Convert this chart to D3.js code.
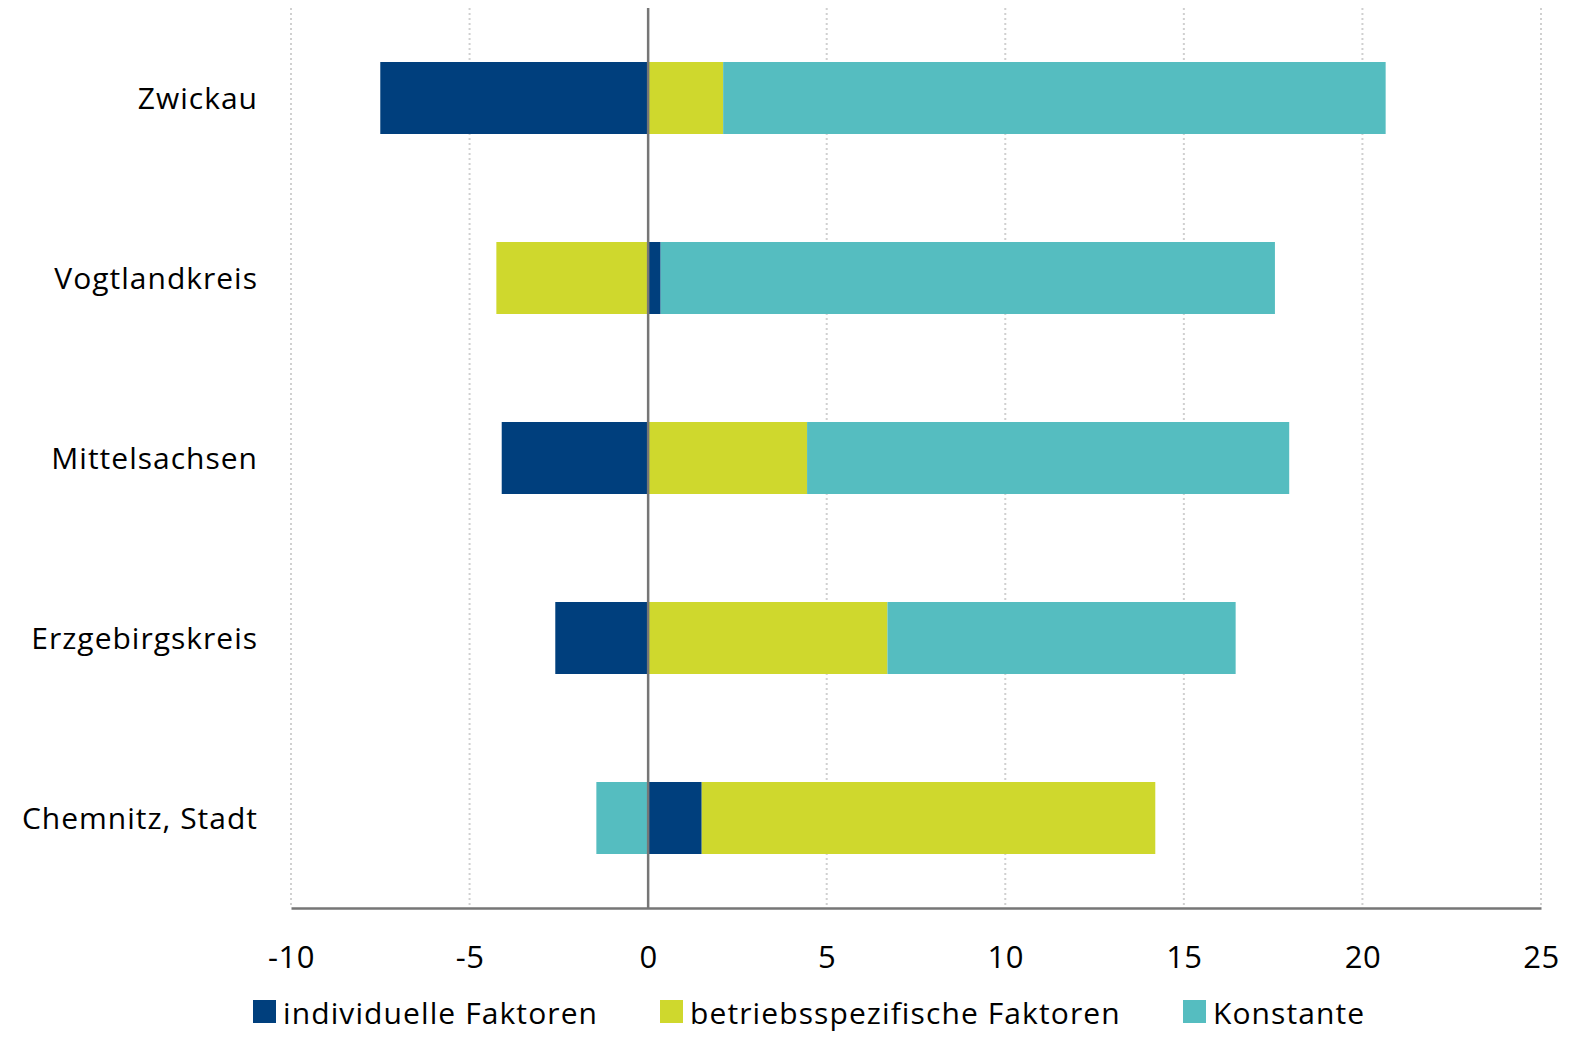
<!DOCTYPE html>
<html>
<head>
<meta charset="utf-8">
<script src="https://cdn.jsdelivr.net/npm/d3@7"></script>
<style>
  html, body { margin: 0; background: #fff; overflow: hidden; }
  svg { display: block; }
  svg text { font-family: "Open Sans", Lato, sans-serif; fill: #000; }
</style>
</head>
<body>
<svg id="chart" width="1575" height="1037"></svg>
<script>
// regions, top to bottom
var regions = ["Zwickau", "Vogtlandkreis", "Mittelsachsen", "Erzgebirgskreis", "Chemnitz, Stadt"];
var seriesNames = ["individuelle Faktoren", "betriebsspezifische Faktoren", "Konstante"];
var individuelle = [-7.5, 0.35, -4.1, -2.6, 1.5];
var betrieb = [2.1, -4.25, 4.45, 6.7, 12.7];
var konstante = [18.55, 17.2, 13.5, 9.75, -1.45];
var xTicks = [-10, -5, 0, 5, 10, 15, 20, 25];
var colors = ["#003f7d", "#cfd82d", "#55bdc0"];

var svg = d3.select("#chart");
var plotLeft = 291, plotRight = 1541, plotTop = 8, plotBottom = 908;

var rows = regions.map(function(r, i) {
  return { region: r, s0: individuelle[i], s1: betrieb[i], s2: konstante[i] };
});

var stack = d3.stack()
  .keys(["s0", "s1", "s2"])
  .offset(d3.stackOffsetDiverging);
var layers = stack(rows);

var x = d3.scaleLinear().domain([-10, 25]).range([plotLeft, plotRight]);
var y = d3.scaleBand().domain(regions).range([plotTop, plotBottom]).paddingInner(0.6).paddingOuter(0.3);

// dotted grid
svg.append("g")
  .selectAll("line")
  .data(xTicks.filter(function(t) { return t != 0; }))
  .join("line")
  .attr("x1", function(d) { return x(d); })
  .attr("x2", function(d) { return x(d); })
  .attr("y1", plotTop)
  .attr("y2", plotBottom)
  .attr("stroke", "#d0d0d0")
  .attr("stroke-width", 2)
  .attr("stroke-dasharray", "2,3");

// bars
svg.append("g")
  .selectAll("g")
  .data(layers)
  .join("g")
  .attr("fill", function(d, i) { return colors[i]; })
  .selectAll("rect")
  .data(function(d) { return d; })
  .join("rect")
  .attr("x", function(d) { return x(Math.min(d[0], d[1])); })
  .attr("width", function(d) { return Math.abs(x(d[1]) - x(d[0])); })
  .attr("y", function(d) { return y(d.data.region); })
  .attr("height", y.bandwidth());

// zero line
svg.append("line")
  .attr("x1", x(0)).attr("x2", x(0))
  .attr("y1", plotTop).attr("y2", plotBottom)
  .attr("stroke", "#767676")
  .attr("stroke-width", 2.5);

// bottom axis
var xAxis = d3.axisBottom(x).tickValues(xTicks).tickSize(0).tickPadding(38)
  .tickFormat(function(d) { return String(d); });
var ax = svg.append("g")
  .attr("transform", "translate(0," + plotBottom + ")")
  .call(xAxis);
ax.select(".domain").attr("stroke", "#767676").attr("stroke-width", 2.5);
ax.selectAll("text")
  .style("font-size", "31px")
  .style("font-family", "'Open Sans', Lato, sans-serif")
  .style("letter-spacing", "0.5px")
  .attr("fill", "#000");

// category labels
svg.append("g")
  .selectAll("text")
  .data(regions)
  .join("text")
  .attr("x", 258)
  .attr("y", function(d) { return y(d) + y.bandwidth() / 2; })
  .attr("dy", "0.35em")
  .attr("text-anchor", "end")
  .style("font-size", "30px")
  .style("letter-spacing", "1px")
  .text(function(d) { return d; });

// legend
var legendX = [253, 660, 1183];
var lg = svg.append("g")
  .selectAll("g")
  .data(seriesNames)
  .join("g")
  .attr("transform", function(d, i) { return "translate(" + legendX[i] + ",1000)"; });
lg.append("rect")
  .attr("width", 23).attr("height", 23)
  .attr("fill", function(d, i) { return colors[i]; });
lg.append("text")
  .attr("x", 30)
  .attr("y", 24)
  .style("font-size", "30px")
  .style("letter-spacing", "1.1px")
  .text(function(d) { return d; });
</script>
</body>
</html>
